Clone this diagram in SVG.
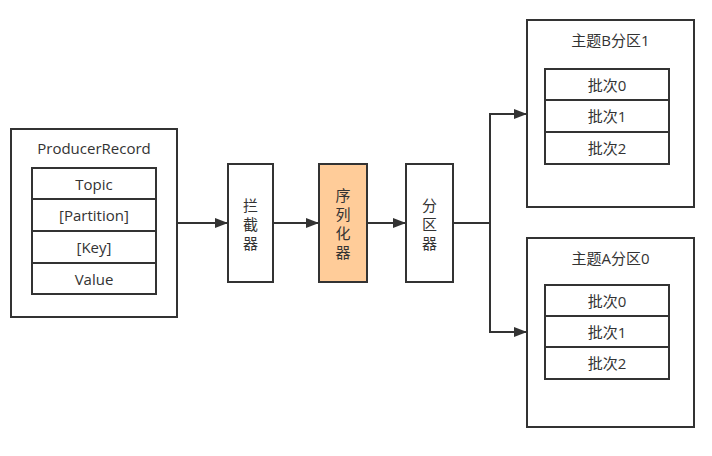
<svg xmlns="http://www.w3.org/2000/svg" width="712" height="456" viewBox="0 0 712 456">
<defs>
<marker id="ah" markerWidth="13" markerHeight="10" refX="12" refY="5" orient="auto" markerUnits="userSpaceOnUse">
<path d="M0,0 L13,5 L0,10 Z" fill="#333"/>
</marker>
<style>
.b{fill:#fff;stroke:#333;stroke-width:2}
.s{fill:#FFCC99;stroke:#333;stroke-width:2}
.t{font-family:"Open Sans","Noto Sans CJK SC",sans-serif;font-size:15px;fill:#333;text-anchor:middle;dominant-baseline:central}
.v{font-family:"Noto Sans CJK SC",sans-serif;font-size:15px;fill:#333;text-anchor:middle;writing-mode:vertical-rl;letter-spacing:4px}
.c{fill:none;stroke:#333;stroke-width:2}
</style>
</defs>
<rect width="712" height="456" fill="#fff"/>
<g id="producerRecord">
<rect class="b" x="11" y="129" width="166" height="188"/>
<text class="t" x="94" y="148">ProducerRecord</text>
<rect class="b" x="32" y="168" width="124" height="31"/>
<text class="t" x="94" y="184">Topic</text>
<rect class="b" x="32" y="199" width="124" height="32"/>
<text class="t" x="94" y="215">[Partition]</text>
<rect class="b" x="32" y="231" width="124" height="32"/>
<text class="t" x="94" y="247">[Key]</text>
<rect class="b" x="32" y="263" width="124" height="31"/>
<text class="t" x="94" y="279">Value</text>
</g>
<g id="interceptor">
<rect class="b" x="228" y="164" width="45" height="118"/>
<text class="v" x="250.5" y="226">拦截器</text>
</g>
<g id="serializer">
<rect class="s" x="319" y="164" width="48" height="118"/>
<text class="v" x="343" y="226">序列化器</text>
</g>
<g id="partitioner">
<rect class="b" x="406" y="164" width="47" height="118"/>
<text class="v" x="429.5" y="226">分区器</text>
</g>
<g id="topicB">
<rect class="b" x="527" y="20" width="167" height="187"/>
<text class="t" x="610.5" y="40">主题B分区1</text>
<rect class="b" x="545" y="69" width="124" height="31"/>
<text class="t" x="607" y="85">批次0</text>
<rect class="b" x="545" y="100" width="124" height="32"/>
<text class="t" x="607" y="116">批次1</text>
<rect class="b" x="545" y="132" width="124" height="32"/>
<text class="t" x="607" y="148">批次2</text>
</g>
<g id="topicA">
<rect class="b" x="527" y="238" width="167" height="189"/>
<text class="t" x="610.5" y="258">主题A分区0</text>
<rect class="b" x="545" y="285" width="124" height="31"/>
<text class="t" x="607" y="301">批次0</text>
<rect class="b" x="545" y="316" width="124" height="31"/>
<text class="t" x="607" y="332">批次1</text>
<rect class="b" x="545" y="347" width="124" height="32"/>
<text class="t" x="607" y="363">批次2</text>
</g>
<g id="connectors">
<line class="c" x1="177" y1="223" x2="227" y2="223" marker-end="url(#ah)"/>
<line class="c" x1="273" y1="223" x2="318" y2="223" marker-end="url(#ah)"/>
<line class="c" x1="367" y1="223" x2="405" y2="223" marker-end="url(#ah)"/>
<polyline class="c" points="453,223 490,223 490,114 526,114" marker-end="url(#ah)"/>
<polyline class="c" points="490,223 490,332 526,332" marker-end="url(#ah)"/>
</g>
</svg>
